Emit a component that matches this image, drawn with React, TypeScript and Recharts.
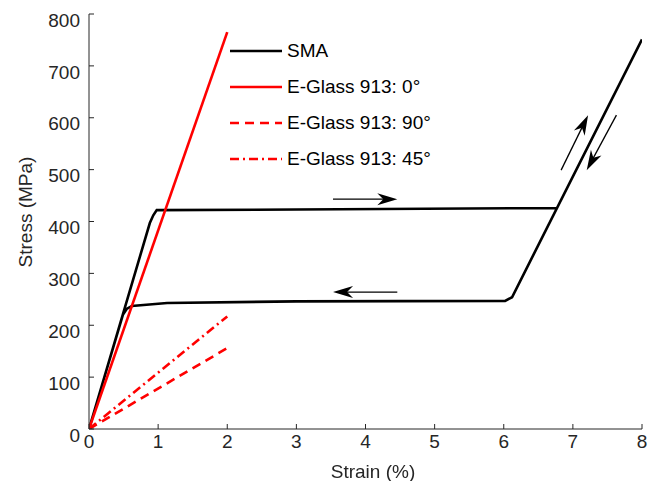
import React from "react";
import { LineChart, Line, XAxis, YAxis, ReferenceLine } from "recharts";

// SMA stress-strain loop: loading then unloading
const smaStrain = [0, 0.88, 0.93, 0.98, 3, 6.77, 8, 6.12, 6.02, 3, 1.13, 0.62, 0.55, 0.49, 0];
const smaStress = [0, 397, 412, 422, 423, 426, 751, 254, 247, 246, 243, 237, 232, 220, 0];

const glassStrain = [0, 2];
const glass0 = [0, 765];
const glass90 = [0, 156];
const glass45 = [0, 217];

const xTicks = [0, 1, 2, 3, 4, 5, 6, 7, 8];
const yTicks = [0, 100, 200, 300, 400, 500, 600, 700, 800];

// annotation arrows [x1, y1, x2, y2] in data units
const arrows = [
  [3.53, 443, 4.46, 443],
  [4.46, 264, 3.53, 264],
  [6.83, 499, 7.22, 605],
  [7.63, 605, 7.2, 499],
];

const toPoints = (xs: number[], ys: number[]) => xs.map((x, i) => ({ x, y: ys[i] }));

const series = [
  { name: "SMA", data: toPoints(smaStrain, smaStress), color: "#000000", dash: undefined },
  { name: "E-Glass 913: 0°", data: toPoints(glassStrain, glass0), color: "#FF0000", dash: undefined },
  { name: "E-Glass 913: 90°", data: toPoints(glassStrain, glass90), color: "#FF0000", dash: "9 6" },
  { name: "E-Glass 913: 45°", data: toPoints(glassStrain, glass45), color: "#FF0000", dash: "9 4 2 4" },
];

const FONT = "'Liberation Sans', Arial, Helvetica, sans-serif";
const AXIS = "#262626";

function ArrowShape(p: any) {
  const { x1, y1, x2, y2 } = p;
  const dx = x2 - x1;
  const dy = y2 - y1;
  const len = Math.hypot(dx, dy) || 1;
  const ux = dx / len;
  const uy = dy / len;
  const hl = 20;
  const hw = 6;
  const notch = 6;
  const bx = x2 - ux * hl;
  const by = y2 - uy * hl;
  const nx = -uy;
  const ny = ux;
  const pts = [
    `${x2},${y2}`,
    `${bx + nx * hw},${by + ny * hw}`,
    `${x2 - ux * (hl - notch)},${y2 - uy * (hl - notch)}`,
    `${bx - nx * hw},${by - ny * hw}`,
  ].join(" ");
  return (
    <g>
      <line x1={x1} y1={y1} x2={x2 - ux * 10} y2={y2 - uy * 10} stroke="#000" strokeWidth={1.3} />
      <polygon points={pts} fill="#000" />
    </g>
  );
}

function LegendBox() {
  return (
    <div style={{ position: "absolute", left: 229, top: 33, fontFamily: FONT, fontSize: 19, color: "#000" }}>
      {series.map((s) => (
        <div key={s.name} style={{ display: "flex", alignItems: "center", height: 36 }}>
          <svg width={56} height={10} style={{ marginRight: 2 }}>
            <line x1={1} y1={5} x2={53} y2={5} stroke={s.color} strokeWidth={2.6} strokeDasharray={s.dash} />
          </svg>
          <span style={{ whiteSpace: "nowrap" }}>{s.name}</span>
        </div>
      ))}
    </div>
  );
}

export default function App() {
  const tickStyle = { fill: AXIS, fontSize: 19, fontFamily: FONT };
  return (
    <div style={{ position: "fixed", left: 0, top: 0, width: 660, height: 481, background: "#fff" }}>
      <LineChart width={660} height={481} margin={{ top: 14, right: 18, left: 29, bottom: 0 }}>
        <XAxis
          type="number"
          dataKey="x"
          domain={[0, 8]}
          ticks={xTicks}
          allowDataOverflow
          height={52}
          stroke={AXIS}
          tickSize={-5}
          tickMargin={11}
          tick={tickStyle}
        />
        <XAxis
          xAxisId="top"
          orientation="top"
          type="number"
          domain={[0, 8]}
          ticks={xTicks}
          allowDataOverflow
          height={0}
          stroke={AXIS}
          tickSize={-5}
          tickFormatter={() => ""}
        />
        <YAxis
          type="number"
          domain={[0, 800]}
          ticks={yTicks}
          allowDataOverflow
          width={60}
          stroke={AXIS}
          tickSize={-5}
          tickMargin={14}
          tick={{ ...tickStyle, dy: 6 }}
        />
        <YAxis
          yAxisId="right"
          orientation="right"
          type="number"
          domain={[0, 800]}
          ticks={yTicks}
          allowDataOverflow
          width={0}
          stroke={AXIS}
          tickSize={-5}
          tickFormatter={() => ""}
        />
        {series.map((s) => (
          <Line
            key={s.name}
            data={s.data}
            dataKey="y"
            name={s.name}
            type="linear"
            stroke={s.color}
            strokeWidth={2.6}
            strokeDasharray={s.dash}
            dot={false}
            activeDot={false}
            isAnimationActive={false}
          />
        ))}
        {arrows.map((a, i) => (
          <ReferenceLine
            key={i}
            segment={[
              { x: a[0], y: a[1] },
              { x: a[2], y: a[3] },
            ]}
            shape={ArrowShape}
          />
        ))}
      </LineChart>
      <LegendBox />
      <div
        style={{
          position: "absolute",
          left: 373,
          top: 472,
          transform: "translate(-50%, -50%)",
          fontFamily: FONT,
          fontSize: 19,
          color: AXIS,
          whiteSpace: "nowrap",
        }}
      >
        Strain (%)
      </div>
      <div
        style={{
          position: "absolute",
          left: 26,
          top: 212,
          transform: "translate(-50%, -50%) rotate(-90deg)",
          fontFamily: FONT,
          fontSize: 19,
          color: AXIS,
          whiteSpace: "nowrap",
        }}
      >
        Stress (MPa)
      </div>
    </div>
  );
}
